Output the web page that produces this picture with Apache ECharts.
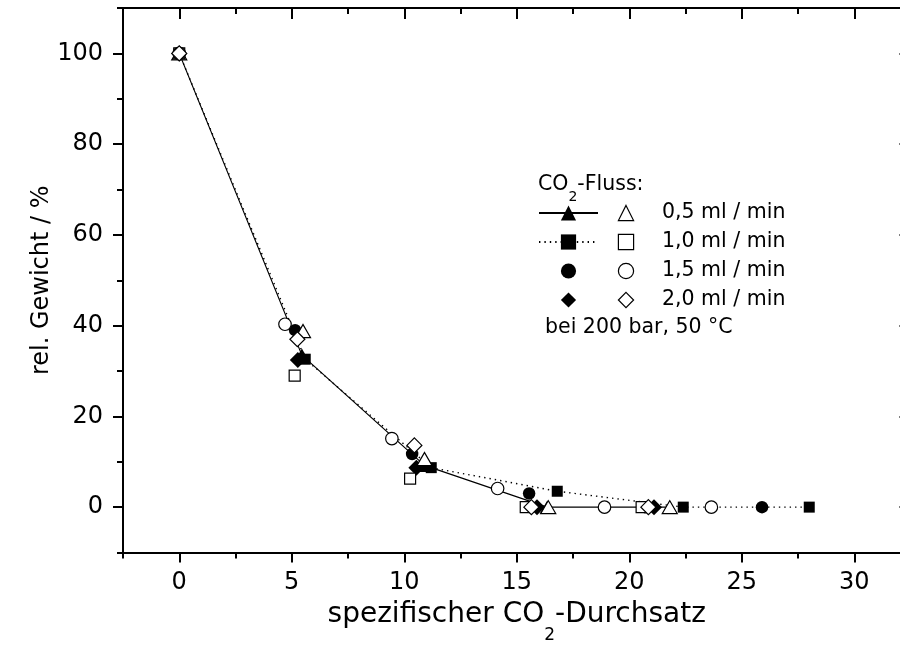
<!DOCTYPE html>
<html>
<head>
<meta charset="utf-8">
<script src="https://cdn.jsdelivr.net/npm/echarts@6/dist/echarts.min.js"></script>
<style>
  html, body { margin: 0; padding: 0; background: #fff; }
  #chart { width: 900px; height: 650px; }
</style>
</head>
<body>
<div id="chart"></div>
<script>
// Flow rates shown in the legend
const flowLabels = ['0,5 ml / min', '1,0 ml / min', '1,5 ml / min', '2,0 ml / min'];

// Filled symbols (first run of each flow rate)
const triFilledX = [0, 5.45, 10.9, 16.35, 21.8];
const triFilledY = [100, 33.5, 9.2, 0, 0];
const sqFilledX = [0, 5.6, 11.2, 16.8, 22.4, 28];
const sqFilledY = [100, 32.6, 8.7, 3.5, 0, 0];
const circFilledX = [0, 5.15, 10.35, 15.55, 20.7, 25.9];
const circFilledY = [100, 39, 11.7, 3, 0, 0];
const diaFilledX = [0, 5.27, 10.54, 15.9, 21.1];
const diaFilledY = [100, 32.4, 8.7, 0, 0];

// Open symbols (second run of each flow rate)
const triOpenX = [0, 5.5, 10.9, 16.4, 21.8];
const triOpenY = [100, 38.8, 10.6, 0, 0];
const sqOpenX = [0, 5.13, 10.26, 15.4, 20.55];
const sqOpenY = [100, 29, 6.3, 0, 0];
const circOpenX = [0, 4.7, 9.45, 14.15, 18.9, 23.65];
const circOpenY = [100, 40.3, 15.1, 4.1, 0, 0];
const diaOpenX = [0, 5.25, 10.45, 15.65, 20.85];
const diaOpenY = [100, 37, 13.6, 0, 0];

// Tick positions
const xMajorTicks = [0, 5, 10, 15, 20, 25, 30];
const xMinorTicks = [-2.5, 2.5, 7.5, 12.5, 17.5, 22.5, 27.5, 32.5];
const yMajorTicks = [0, 20, 40, 60, 80, 100];
const yMinorTicks = [-10, 10, 30, 50, 70, 90, 110];

const FONT = '"DejaVu Sans", sans-serif';
const X_RANGE = [-2.5, 32.5];
const Y_RANGE = [-10, 110];

function pairs(xs, ys) { return xs.map((x, i) => [x, ys[i]]); }

function frameAxis(position, range, ticks, len, inside, labels) {
  return {
    type: 'value',
    position: position,
    min: range[0],
    max: range[1],
    axisLine: { show: true, onZero: false, lineStyle: { color: '#000', width: 2 } },
    axisTick: { show: true, inside: inside, length: len, customValues: ticks,
                lineStyle: { color: '#000', width: 2 } },
    axisLabel: labels ? Object.assign({ customValues: ticks }, labels) : { show: false },
    splitLine: { show: false },
    minorTick: { show: false },
    minorSplitLine: { show: false }
  };
}

const tickLabelStyle = { show: true, color: '#000', fontFamily: FONT, fontSize: 24 };

const xMain = frameAxis('bottom', X_RANGE, xMajorTicks, 10, false,
  Object.assign({ margin: 18 }, tickLabelStyle));
xMain.name = '{t|spezifischer CO}{s|2}{t|-Durchsatz}';
xMain.nameLocation = 'middle';
xMain.nameGap = 48;
xMain.nameMoveOverlap = false;
xMain.nameTextStyle = {
  color: '#000',
  rich: {
    t: { fontFamily: FONT, fontSize: 28, color: '#000', lineHeight: 32, verticalAlign: 'top' },
    s: { fontFamily: FONT, fontSize: 17, color: '#000', lineHeight: 17, verticalAlign: 'top', padding: [27, 0, 0, 0] }
  }
};

const yMain = frameAxis('left', Y_RANGE, yMajorTicks, 10, false,
  Object.assign({ margin: 20 }, tickLabelStyle));
yMain.name = 'rel. Gewicht / %';
yMain.nameLocation = 'middle';
yMain.nameGap = 69;
yMain.nameMoveOverlap = false;
yMain.nameTextStyle = { color: '#000', fontFamily: FONT, fontSize: 24 };

const xAxes = [
  xMain,
  frameAxis('bottom', X_RANGE, xMinorTicks, 6, false, null),
  frameAxis('top', X_RANGE, xMajorTicks, 11, true, null),
  frameAxis('top', X_RANGE, xMinorTicks, 6, true, null)
];
const yAxes = [
  yMain,
  frameAxis('left', Y_RANGE, yMinorTicks, 6, false, null),
  frameAxis('right', Y_RANGE, yMajorTicks, 11, true, null),
  frameAxis('right', Y_RANGE, yMinorTicks, 6, true, null)
];

const filledStyle = { color: '#000', borderColor: '#000', borderWidth: 0 };
const openStyle = { color: '#fff', borderColor: '#000', borderWidth: 1.2 };
const noLine = { width: 0, opacity: 0 };

function makeSeries(name, xs, ys, symbol, size, itemStyle, lineStyle, z) {
  return {
    name: name,
    type: 'line',
    z: z,
    data: pairs(xs, ys),
    symbol: symbol,
    symbolSize: size,
    showSymbol: true,
    showAllSymbol: true,
    itemStyle: itemStyle,
    lineStyle: lineStyle,
    emphasis: { disabled: true },
    animation: false,
    clip: true
  };
}

const filledNames = flowLabels.map(l => l + ' \u25CF');
const series = [
  makeSeries(filledNames[0], triFilledX, triFilledY, 'triangle', [15, 13], filledStyle,
             { color: '#000', width: 1.2, type: 'solid' }, 2),
  makeSeries(filledNames[1], sqFilledX, sqFilledY, 'rect', 11, filledStyle,
             { color: '#000', width: 1.4, type: [1.4, 4] }, 2),
  makeSeries(filledNames[2], circFilledX, circFilledY, 'circle', 12.5, filledStyle, noLine, 3),
  makeSeries(filledNames[3], diaFilledX, diaFilledY, 'diamond', 16, filledStyle, noLine, 3),
  makeSeries(flowLabels[0], triOpenX, triOpenY, 'triangle', [15, 13], openStyle, noLine, 4),
  makeSeries(flowLabels[1], sqOpenX, sqOpenY, 'rect', 11, openStyle, noLine, 4),
  makeSeries(flowLabels[2], circOpenX, circOpenY, 'circle', 12.5, openStyle, noLine, 4),
  makeSeries(flowLabels[3], diaOpenX, diaOpenY, 'diamond', 15, openStyle, noLine, 5)
];

const legendText = { color: '#000', fontFamily: FONT, fontSize: 20.5, lineHeight: 24 };

const option = {
  backgroundColor: '#fff',
  animation: false,
  grid: { left: 123, top: 8, width: 787.5, height: 544.5, containLabel: false, outerBoundsMode: 'none' },
  xAxis: xAxes,
  yAxis: yAxes,
  title: [
    {
      text: '{a|CO}{s|2}{a|-Fluss:}',
      left: 538, top: 174, padding: 0,
      textStyle: {
        fontWeight: 'normal',
        rich: {
          a: { fontFamily: FONT, fontSize: 20.5, fontWeight: 'normal', color: '#000', lineHeight: 24, verticalAlign: 'top' },
          s: { fontFamily: FONT, fontSize: 14, fontWeight: 'normal', color: '#000', lineHeight: 14, verticalAlign: 'top', padding: [16, 0, 0, 0] }
        }
      }
    },
    {
      text: 'bei 200 bar, 50 \u00B0C',
      left: 545, top: 316, padding: 0,
      textStyle: { fontFamily: FONT, fontSize: 20.5, fontWeight: 'normal', color: '#000', lineHeight: 24 }
    }
  ],
  legend: [
    {
      data: filledNames,
      orient: 'vertical', left: 538, top: 201, padding: 0,
      itemWidth: 59, itemHeight: 19, itemGap: 5,
      selectedMode: false,
      formatter: () => ' ',
      textStyle: legendText,
      itemStyle: { borderWidth: 0 }
    },
    {
      data: flowLabels,
      orient: 'vertical', left: 595, top: 201, padding: 0,
      itemWidth: 62, itemHeight: 19, itemGap: 5,
      selectedMode: false,
      textStyle: legendText,
      itemStyle: { borderWidth: 1.2 }
    }
  ],
  series: series
};

const chart = echarts.init(document.getElementById('chart'), null, { renderer: 'canvas' });
chart.setOption(option);
</script>
</body>
</html>
